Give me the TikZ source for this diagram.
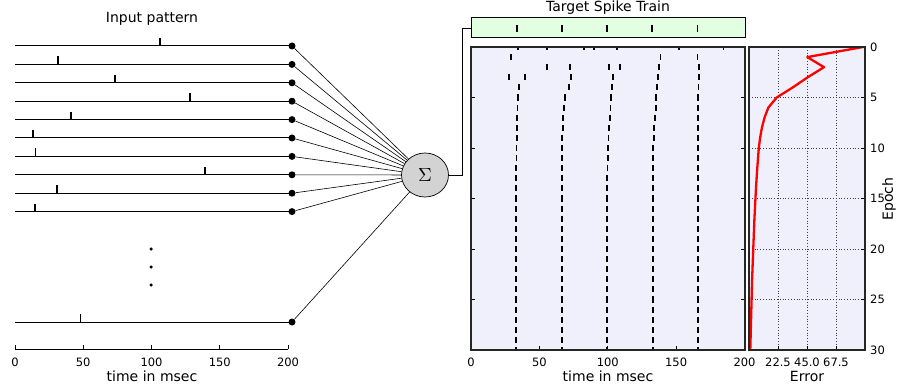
\documentclass[tikz,border=0pt]{standalone}
\usepackage{fontspec}
\setmainfont{DejaVu Sans}
\usetikzlibrary{shapes.geometric}
\definecolor{axbg}{RGB}{240,240,252}
\definecolor{tgtbg}{RGB}{226,255,226}
\definecolor{sumgray}{RGB}{211,211,211}
\tikzset{
  dotnode/.style={circle,fill=black,inner sep=0pt,minimum size=7pt},
  smalldot/.style={circle,fill=black,inner sep=0pt,minimum size=3.5pt},
  wire/.style={line width=1pt},
  conn/.style={line width=0.6pt},
  spk/.style={line width=1.8pt},
  ticklab/.style={font=\fontsize{11.5}{12}\selectfont, inner sep=0pt},
  axlab/.style={font=\fontsize{14}{14}\selectfont, inner sep=0pt},
  frame/.style={line width=1.1pt, draw=black!85},
  gridl/.style={dash pattern=on 0.8pt off 2pt, line width=0.7pt, draw=black!75},
  axtick/.style={line width=0.7pt},
}
\begin{document}
\begin{tikzpicture}[x=1pt,y=-1pt]
\useasboundingbox (0,0) rectangle (897,385);

% ---------------- Input pattern ----------------
\node[axlab] (title1) at (152,19) {Input pattern};
\foreach \i/\s in {0/106,1/31.5,2/73,3/128,4/41,5/13,6/15,7/139,8/31,9/14.6} {
  \pgfmathsetmacro\yy{46+18.4*\i}
  \draw[wire] (15,\yy) -- (292,\yy);
  \draw[spk] ({15+1.365*\s},\yy) -- ++(0,-8);
  \node[dotnode] (d\i) at (292,\yy) {};
}
\draw[wire] (15,322) -- (292,322);
\draw[spk] ({15+1.365*48},322) -- ++(0,-8);
\node[dotnode] (d10) at (292,322) {};
\node[smalldot] (v1) at (151,249) {};
\node[smalldot] (v2) at (151,267) {};
\node[smalldot] (v3) at (151,285) {};

% input axis
\draw[axtick] (15,349) -- (288,349);
\foreach \t in {0,50,100,150,200} {
  \draw[axtick] ({15+1.365*\t},349) -- ++(0,-4);
  \node[ticklab] at ({15+1.365*\t},362) {\t};
}
\node[axlab] at (152,376) {time in msec};

% ---------------- Summation ----------------
\node[ellipse, draw, line width=0.7pt, fill=sumgray, minimum width=47pt, minimum height=44pt, inner sep=0pt] (sum) at (425,175) {\scalebox{1.9}{$\Sigma$}};
\foreach \i in {0,...,10} {
  \draw[conn] (d\i) -- (sum);
}

% ---------------- Target spike train ----------------
\node[axlab] (title2) at (608,8) {Target Spike Train};
\node[draw, line width=1pt, fill=tgtbg, minimum width=274pt, minimum height=20pt, inner sep=0pt] (tgt) at (608,28) {};
\foreach \t in {33.7,66.7,99.6,132.6,165.6} {
  \draw[spk] ({471+1.3675*\t},25) -- ++(0,7);
}
\coordinate (bend) at (462,175);
\draw[conn] (sum.east) -- (bend) |- (tgt.west);

% ---------------- Raster ----------------
\fill[axbg] (471,47) rectangle (745,350);
\begin{scope}
\clip (471,47) rectangle (745,350);
\begin{scope}[shift={(471,47)}, x=1.3675pt, y=-10.1pt]
\foreach \e/\lst in {
  0/{34.4,55.7,82.8,90.1,107,152,184.6},
  1/{29.3,138.5,165.6},
  2/{55.7,72.5,101,109,137.7,167},
  3/{27.8,39.6,73,104,137,167},
  4/{35,71.8,103,136,166.3},
  5/{34.5,69,102.5,135.5,166.2},
  6/{34,68,102,135,166},
  7/{33.8,67.5,101.5,134.5,166},
  8/{33.6,67,101,134,166},
  9/{33.5,66.8,100.5,133.6,166},
  10/{33.3,66.6,100.2,133.3,165.9},
  11/{33.2,66.5,100,133.2,165.9},
  12/{33.1,66.4,99.8,133.1,165.9}} {
  \foreach \t in \lst {
    \draw[spk] (\t,\e-0.3) -- (\t,\e+0.3);
  }
}
\foreach \e in {13,...,30} {
  \foreach \t in {33,66.3,99.6,133,165.9} {
    \draw[spk] (\t,\e-0.3) -- (\t,\e+0.3);
  }
}
\end{scope}
\end{scope}
\foreach \t in {0,50,100,150,200} {
  \draw[axtick] ({471+1.3675*\t},350) -- ++(0,-4);
  \node[ticklab] at ({471+1.3675*\t},362) {\t};
}
\foreach \e in {5,10,...,25} {
  \draw[axtick] (471,{47+10.1*\e}) -- ++(4,0);
  \draw[axtick] (745,{47+10.1*\e}) -- ++(-4,0);
}
\draw[frame] (471,47) rectangle (745,350);
\node[axlab] at (608,376) {time in msec};

% ---------------- Error ----------------
\fill[axbg] (749,47) rectangle (865,350);
\foreach \r in {22.5,45,67.5} {
  \draw[gridl] ({749+1.289*\r},47) -- ({749+1.289*\r},350);
}
\foreach \e in {5,10,...,25} {
  \draw[gridl] (749,{47+10.1*\e}) -- (865,{47+10.1*\e});
}
\begin{scope}
\clip (749,47) rectangle (865,350);
\begin{scope}[shift={(749,47)}, x=1.289pt, y=-10.1pt]
\draw[red, line width=2.3pt, line join=round] plot coordinates {
 (88.5,0) (45.2,1) (58.2,2) (45.5,3) (34,4) (21.5,5) (15,6) (12,7) (10,8) (8.6,9)
 (7.6,10) (7,11) (6.4,12) (5.9,13) (5.4,14) (5.0,15) (4.6,16) (4.2,17) (3.9,18) (3.6,19)
 (3.3,20) (3.0,21) (2.7,22) (2.4,23) (2.2,24) (2.0,25) (1.8,26) (1.6,27) (1.4,28) (1.2,29) (1.0,30)};
\end{scope}
\end{scope}
\foreach \r/\lab in {22.5/22.5,45/45.0,67.5/67.5} {
  \draw[axtick] ({749+1.289*\r},350) -- ++(0,-4);
  \node[ticklab] at ({749+1.289*\r},362) {\lab};
}
\foreach \e in {0,5,...,30} {
  \draw[axtick] (865,{47+10.1*\e}) -- ++(-4,0);
  \node[ticklab, anchor=west] at (870,{47+10.1*\e}) {\e};
}
\draw[frame] (749,47) rectangle (865,350);
\node[axlab] at (807,376) {Error};
\node[axlab, rotate=90] at (889,199) {Epoch};
\end{tikzpicture}
\end{document}
